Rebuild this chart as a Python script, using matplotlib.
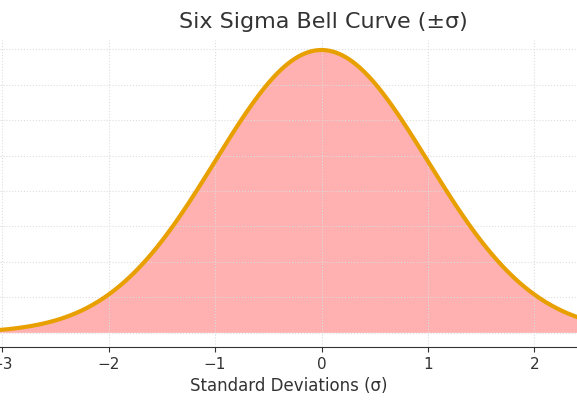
import matplotlib
matplotlib.use("Agg")
import matplotlib.pyplot as plt

x_vals = [-3.25, -3.0, -2.75, -2.5, -2.25, -2.0, -1.75, -1.5, -1.25, -1.0, -0.75, -0.5, -0.25, 0.0,
          0.25, 0.5, 0.75, 1.0, 1.25, 1.5, 1.75, 2.0, 2.25, 2.5, 2.75]
density = [0.0020, 0.0044, 0.0091, 0.0175, 0.0317, 0.0540, 0.0863, 0.1295, 0.1826, 0.2420, 0.3011,
           0.3521, 0.3867, 0.3989, 0.3867, 0.3521, 0.3011, 0.2420, 0.1826, 0.1295, 0.0863, 0.0540,
           0.0317, 0.0175, 0.0091]
xticks = [-3, -2, -1, 0, 1, 2]

# smooth via dense cubic interpolation of read points
import numpy as np
from matplotlib.path import Path
xs = np.linspace(x_vals[0], x_vals[-1], 600)
try:
    from scipy.interpolate import CubicSpline
    ys = CubicSpline(x_vals, density)(xs)
except Exception:
    ys = np.interp(xs, x_vals, density)

fig = plt.figure(figsize=(5.77, 4.04), dpi=100)
ax = fig.add_axes([0.0, 0.141, 1.0, 0.76])
ax.fill_between(xs, ys, 0, color='#ffb0b0', lw=0)
ax.plot(xs, ys, color='#e8a000', lw=3)
ax.set_xlim(-3.02, 2.4)
ax.set_ylim(-0.02, 0.413)
ax.set_xticks(xticks)
ax.set_xticklabels(['\u2212%d' % -t if t < 0 else str(t) for t in xticks])
ax.set_yticks([0, 0.05, 0.1, 0.15, 0.2, 0.25, 0.3, 0.35, 0.4])
ax.tick_params(axis='y', length=0, labelleft=False)
ax.tick_params(axis='x', labelsize=11, colors='#333333')
ax.grid(True, ls=':', color='#dddddd', lw=0.8)
for s in ['top', 'right', 'left']:
    ax.spines[s].set_visible(False)
ax.spines['bottom'].set_color('#333333')
ax.set_xlabel('Standard Deviations (\u03c3)', fontsize=12, color='#333333')
fig.text(0.56, 0.945, 'Six Sigma Bell Curve (\u00b1\u03c3)', ha='center', va='center', fontsize=16, color='#333333')
fig.savefig('out.png', dpi=100)
